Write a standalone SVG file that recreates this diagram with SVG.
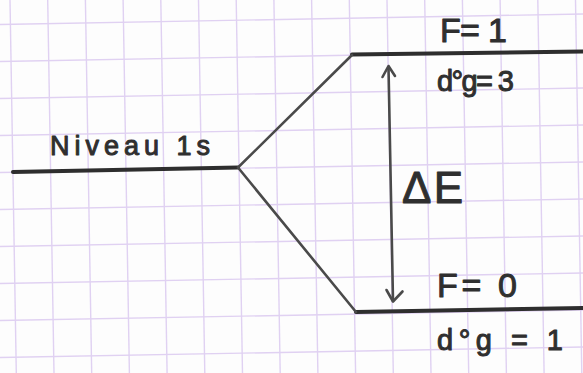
<svg xmlns="http://www.w3.org/2000/svg" width="583" height="373" viewBox="0 0 583 373">
<defs>
<style>
.grid line{stroke:#e0d1f2;stroke-width:1.4}
.level{stroke:#2e2e2e;stroke-width:4;stroke-linecap:round;fill:none}
.conn{stroke:#4a4a4a;stroke-width:2.6;stroke-linecap:round;stroke-linejoin:round;fill:none}
.hw{font-family:"Liberation Sans","DejaVu Sans",sans-serif;fill:#2f2f2f;stroke:#2f2f2f;stroke-width:1;stroke-linejoin:round}
</style>
</defs>
<rect width="583" height="373" fill="#fdfdfd"/>
<g class="grid">
<line x1="10" y1="0" x2="16.3" y2="373"/>
<line x1="47.7" y1="0" x2="54" y2="373"/>
<line x1="85.4" y1="0" x2="91.7" y2="373"/>
<line x1="123.1" y1="0" x2="129.4" y2="373"/>
<line x1="160.8" y1="0" x2="167.1" y2="373"/>
<line x1="198.5" y1="0" x2="204.8" y2="373"/>
<line x1="236.2" y1="0" x2="242.5" y2="373"/>
<line x1="273.9" y1="0" x2="280.2" y2="373"/>
<line x1="311.6" y1="0" x2="317.9" y2="373"/>
<line x1="349.3" y1="0" x2="355.6" y2="373"/>
<line x1="387" y1="0" x2="393.3" y2="373"/>
<line x1="424.7" y1="0" x2="431" y2="373"/>
<line x1="462.4" y1="0" x2="468.7" y2="373"/>
<line x1="500.1" y1="0" x2="506.4" y2="373"/>
<line x1="537.8" y1="0" x2="544.1" y2="373"/>
<line x1="575.5" y1="0" x2="581.8" y2="373"/>
<line x1="0" y1="24.5" x2="583" y2="14"/>
<line x1="0" y1="61.5" x2="583" y2="51"/>
<line x1="0" y1="98.5" x2="583" y2="88"/>
<line x1="0" y1="135.5" x2="583" y2="125"/>
<line x1="0" y1="172.5" x2="583" y2="162"/>
<line x1="0" y1="209.5" x2="583" y2="199"/>
<line x1="0" y1="246.5" x2="583" y2="236"/>
<line x1="0" y1="283.5" x2="583" y2="273"/>
<line x1="0" y1="320.5" x2="583" y2="310"/>
<line x1="0" y1="357.5" x2="583" y2="347"/>
</g>
<g id="niveau-1s">
<line class="level" x1="13" y1="172" x2="238" y2="167.5"/>
<text class="hw" x="50" y="155" font-size="27" textLength="160" lengthAdjust="spacing">Niveau 1s</text>
</g>
<g id="level-F1">
<line class="level" x1="352" y1="54.5" x2="583" y2="51.5"/>
<text class="hw" x="440" y="42" font-size="34" textLength="67" lengthAdjust="spacing">F= 1</text>
<text class="hw" x="437" y="91" font-size="29" textLength="77" lengthAdjust="spacing">d°g= 3</text>
</g>
<g id="level-F0">
<line class="level" x1="356" y1="312" x2="583" y2="308"/>
<text class="hw" x="437" y="297" font-size="34" textLength="80" lengthAdjust="spacing">F= 0</text>
<text class="hw" x="437" y="350" font-size="29" textLength="126" lengthAdjust="spacing">d°g = 1</text>
</g>
<g id="connectors">
<polyline class="conn" points="352,55 238,167.5 356,312"/>
<line class="conn" x1="388.5" y1="67" x2="393" y2="301"/>
<polyline class="conn" points="382.5,77 388.5,66 395,76"/>
<polyline class="conn" points="386.5,290 393,301.5 402.5,291.5"/>
<text class="hw" x="402" y="203" font-size="44" textLength="61" lengthAdjust="spacing">ΔE</text>
</g>
</svg>
